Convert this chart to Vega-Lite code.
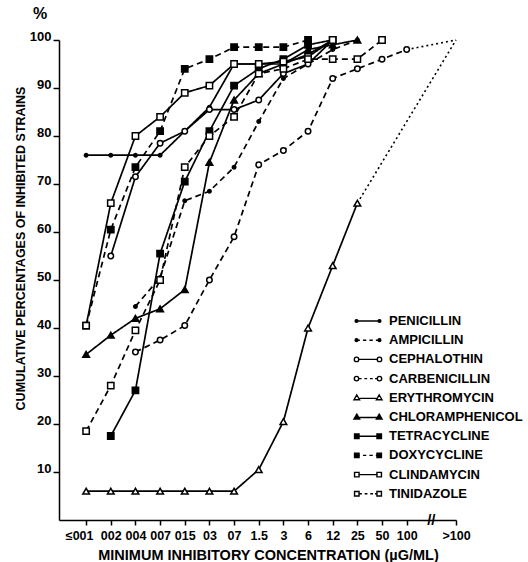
{
  "$schema": "https://vega.github.io/schema/vega-lite/v6.json",
  "width": 397,
  "height": 480,
  "autosize": "none",
  "padding": {"left": 59, "top": 40, "right": 72, "bottom": 42},
  "background": "white",
  "config": {"view": {"stroke": null}, "font": "Liberation Sans", "axis": {"labelOverlap": false}},
  "title": {"text": "%", "anchor": "start", "frame": "group", "dx": -26, "offset": 8, "fontSize": 16, "fontWeight": "bold", "color": "black", "font": "Liberation Sans"},
  "datasets": {
    "curves": [
      {"drug": "PENICILLIN", "step": 0, "pct": 76}, {"drug": "PENICILLIN", "step": 1, "pct": 76}, {"drug": "PENICILLIN", "step": 2, "pct": 76}, {"drug": "PENICILLIN", "step": 3, "pct": 76}, {"drug": "PENICILLIN", "step": 4, "pct": 81}, {"drug": "PENICILLIN", "step": 5, "pct": 86}, {"drug": "PENICILLIN", "step": 6, "pct": 95}, {"drug": "PENICILLIN", "step": 7, "pct": 95}, {"drug": "PENICILLIN", "step": 8, "pct": 95}, {"drug": "PENICILLIN", "step": 9, "pct": 97}, {"drug": "PENICILLIN", "step": 10, "pct": 100},
      {"drug": "AMPICILLIN", "step": 2, "pct": 44.5}, {"drug": "AMPICILLIN", "step": 3, "pct": 50.5}, {"drug": "AMPICILLIN", "step": 4, "pct": 66.5}, {"drug": "AMPICILLIN", "step": 5, "pct": 68.5}, {"drug": "AMPICILLIN", "step": 6, "pct": 73.5}, {"drug": "AMPICILLIN", "step": 7, "pct": 83}, {"drug": "AMPICILLIN", "step": 8, "pct": 92}, {"drug": "AMPICILLIN", "step": 9, "pct": 95}, {"drug": "AMPICILLIN", "step": 10, "pct": 98}, {"drug": "AMPICILLIN", "step": 11, "pct": 100},
      {"drug": "CEPHALOTHIN", "step": 1, "pct": 55}, {"drug": "CEPHALOTHIN", "step": 2, "pct": 71.5}, {"drug": "CEPHALOTHIN", "step": 3, "pct": 78.5}, {"drug": "CEPHALOTHIN", "step": 4, "pct": 81}, {"drug": "CEPHALOTHIN", "step": 5, "pct": 85.5}, {"drug": "CEPHALOTHIN", "step": 6, "pct": 85.5}, {"drug": "CEPHALOTHIN", "step": 7, "pct": 87.5}, {"drug": "CEPHALOTHIN", "step": 8, "pct": 93}, {"drug": "CEPHALOTHIN", "step": 9, "pct": 95}, {"drug": "CEPHALOTHIN", "step": 10, "pct": 100},
      {"drug": "CARBENICILLIN", "step": 2, "pct": 35}, {"drug": "CARBENICILLIN", "step": 3, "pct": 37.5}, {"drug": "CARBENICILLIN", "step": 4, "pct": 40.5}, {"drug": "CARBENICILLIN", "step": 5, "pct": 50}, {"drug": "CARBENICILLIN", "step": 6, "pct": 59}, {"drug": "CARBENICILLIN", "step": 7, "pct": 74}, {"drug": "CARBENICILLIN", "step": 8, "pct": 77}, {"drug": "CARBENICILLIN", "step": 9, "pct": 81}, {"drug": "CARBENICILLIN", "step": 10, "pct": 92}, {"drug": "CARBENICILLIN", "step": 11, "pct": 94}, {"drug": "CARBENICILLIN", "step": 12, "pct": 96}, {"drug": "CARBENICILLIN", "step": 13, "pct": 98},
      {"drug": "ERYTHROMYCIN", "step": 0, "pct": 6}, {"drug": "ERYTHROMYCIN", "step": 1, "pct": 6}, {"drug": "ERYTHROMYCIN", "step": 2, "pct": 6}, {"drug": "ERYTHROMYCIN", "step": 3, "pct": 6}, {"drug": "ERYTHROMYCIN", "step": 4, "pct": 6}, {"drug": "ERYTHROMYCIN", "step": 5, "pct": 6}, {"drug": "ERYTHROMYCIN", "step": 6, "pct": 6}, {"drug": "ERYTHROMYCIN", "step": 7, "pct": 10.5}, {"drug": "ERYTHROMYCIN", "step": 8, "pct": 20.5}, {"drug": "ERYTHROMYCIN", "step": 9, "pct": 40}, {"drug": "ERYTHROMYCIN", "step": 10, "pct": 53}, {"drug": "ERYTHROMYCIN", "step": 11, "pct": 66},
      {"drug": "CHLORAMPHENICOL", "step": 0, "pct": 34.5}, {"drug": "CHLORAMPHENICOL", "step": 1, "pct": 38.5}, {"drug": "CHLORAMPHENICOL", "step": 2, "pct": 42}, {"drug": "CHLORAMPHENICOL", "step": 3, "pct": 44}, {"drug": "CHLORAMPHENICOL", "step": 4, "pct": 48}, {"drug": "CHLORAMPHENICOL", "step": 5, "pct": 74.5}, {"drug": "CHLORAMPHENICOL", "step": 6, "pct": 87.5}, {"drug": "CHLORAMPHENICOL", "step": 7, "pct": 93}, {"drug": "CHLORAMPHENICOL", "step": 8, "pct": 95}, {"drug": "CHLORAMPHENICOL", "step": 9, "pct": 98}, {"drug": "CHLORAMPHENICOL", "step": 10, "pct": 99}, {"drug": "CHLORAMPHENICOL", "step": 11, "pct": 100},
      {"drug": "TETRACYCLINE", "step": 1, "pct": 17.5}, {"drug": "TETRACYCLINE", "step": 2, "pct": 27}, {"drug": "TETRACYCLINE", "step": 3, "pct": 55.5}, {"drug": "TETRACYCLINE", "step": 4, "pct": 70.5}, {"drug": "TETRACYCLINE", "step": 5, "pct": 81}, {"drug": "TETRACYCLINE", "step": 6, "pct": 90.5}, {"drug": "TETRACYCLINE", "step": 7, "pct": 94}, {"drug": "TETRACYCLINE", "step": 8, "pct": 96}, {"drug": "TETRACYCLINE", "step": 9, "pct": 99}, {"drug": "TETRACYCLINE", "step": 10, "pct": 100},
      {"drug": "DOXYCYCLINE", "step": 0, "pct": 40.5}, {"drug": "DOXYCYCLINE", "step": 1, "pct": 60.5}, {"drug": "DOXYCYCLINE", "step": 2, "pct": 73.5}, {"drug": "DOXYCYCLINE", "step": 3, "pct": 81}, {"drug": "DOXYCYCLINE", "step": 4, "pct": 94}, {"drug": "DOXYCYCLINE", "step": 5, "pct": 96}, {"drug": "DOXYCYCLINE", "step": 6, "pct": 98.5}, {"drug": "DOXYCYCLINE", "step": 7, "pct": 98.5}, {"drug": "DOXYCYCLINE", "step": 8, "pct": 98.5}, {"drug": "DOXYCYCLINE", "step": 9, "pct": 100},
      {"drug": "CLINDAMYCIN", "step": 0, "pct": 40.5}, {"drug": "CLINDAMYCIN", "step": 1, "pct": 66}, {"drug": "CLINDAMYCIN", "step": 2, "pct": 80}, {"drug": "CLINDAMYCIN", "step": 3, "pct": 84}, {"drug": "CLINDAMYCIN", "step": 4, "pct": 89}, {"drug": "CLINDAMYCIN", "step": 5, "pct": 90.5}, {"drug": "CLINDAMYCIN", "step": 6, "pct": 95}, {"drug": "CLINDAMYCIN", "step": 7, "pct": 95}, {"drug": "CLINDAMYCIN", "step": 8, "pct": 95.5}, {"drug": "CLINDAMYCIN", "step": 9, "pct": 96.5}, {"drug": "CLINDAMYCIN", "step": 10, "pct": 100},
      {"drug": "TINIDAZOLE", "step": 0, "pct": 18.5}, {"drug": "TINIDAZOLE", "step": 1, "pct": 28}, {"drug": "TINIDAZOLE", "step": 2, "pct": 39.5}, {"drug": "TINIDAZOLE", "step": 3, "pct": 50}, {"drug": "TINIDAZOLE", "step": 4, "pct": 73.5}, {"drug": "TINIDAZOLE", "step": 5, "pct": 80}, {"drug": "TINIDAZOLE", "step": 6, "pct": 84}, {"drug": "TINIDAZOLE", "step": 7, "pct": 93}, {"drug": "TINIDAZOLE", "step": 8, "pct": 94}, {"drug": "TINIDAZOLE", "step": 9, "pct": 96}, {"drug": "TINIDAZOLE", "step": 10, "pct": 96}, {"drug": "TINIDAZOLE", "step": 11, "pct": 96}, {"drug": "TINIDAZOLE", "step": 12, "pct": 100}
    ],
    "extensions": [
      {"drug": "ERYTHROMYCIN", "step": 11, "pct": 66}, {"drug": "ERYTHROMYCIN", "step": 15, "pct": 100},
      {"drug": "CARBENICILLIN", "step": 13, "pct": 98}, {"drug": "CARBENICILLIN", "step": 15, "pct": 100}
    ]
  },
  "layer": [
    {
      "data": {"name": "curves"},
      "mark": {"type": "line", "color": "black", "strokeWidth": 1.7},
      "encoding": {
        "x": {"field": "step", "type": "quantitative", "scale": {"domain": [-1.1, 15], "nice": false, "zero": false},
          "axis": {"values": [0,1,2,3,4,5,6,7,8,9,10,11,12,13,15], "tickCount": 20, "labelExpr": "['≤001','002','004','007','015','03','07','1.5','3','6','12','25','50','100','','>100'][datum.value]", "labelOffset": {"condition": {"test": "datum.value == 0", "value": -7}, "value": 0}, "grid": false, "domainColor": "black", "domainWidth": 1.5, "tickColor": "black", "tickWidth": 1.5, "tickSize": 5, "labelPadding": 4, "labelFont": "Liberation Sans", "labelFontSize": 12.5, "labelFontWeight": "bold", "labelColor": "black", "labelFlush": false, "labelOverlap": false, "title": "MINIMUM INHIBITORY CONCENTRATION (µG/ML)", "titleFont": "Liberation Sans", "titleFontSize": 14.5, "titleFontWeight": "bold", "titleColor": "black", "titleX": 209, "titleY": 35, "titleBaseline": "middle", "titleAlign": "center"}},
        "y": {"field": "pct", "type": "quantitative", "scale": {"domain": [0, 100], "nice": false},
          "axis": {"values": [10,20,30,40,50,60,70,80,90,100], "tickCount": 20, "grid": false, "domainColor": "black", "domainWidth": 1.5, "tickColor": "black", "tickWidth": 1.5, "tickSize": 6, "labelPadding": 2, "labelBaseline": "alphabetic", "labelFont": "Liberation Sans", "labelFontSize": 13, "labelFontWeight": "bold", "labelColor": "black", "labelOverlap": false, "title": "CUMULATIVE PERCENTAGES OF INHIBITED STRAINS", "titleFont": "Liberation Sans", "titleFontSize": 12.5, "titleFontWeight": "bold", "titleColor": "black", "titleX": -39, "titleY": 208, "titleBaseline": "middle", "titleAlign": "center", "titleAngle": 270}},
        "detail": {"field": "drug"},
        "strokeDash": {"field": "drug", "type": "nominal", "legend": null,
          "scale": {"domain": ["PENICILLIN","AMPICILLIN","CEPHALOTHIN","CARBENICILLIN","ERYTHROMYCIN","CHLORAMPHENICOL","TETRACYCLINE","DOXYCYCLINE","CLINDAMYCIN","TINIDAZOLE"],
            "range": [[1,0],[6,4],[1,0],[6,4],[1,0],[1,0],[1,0],[6,4],[1,0],[6,4]]}}
      }
    },
    {
      "data": {"name": "extensions"},
      "mark": {"type": "line", "color": "black", "strokeWidth": 1.6, "strokeDash": [2, 3]},
      "encoding": {
        "x": {"field": "step", "type": "quantitative"},
        "y": {"field": "pct", "type": "quantitative"},
        "detail": {"field": "drug"}
      }
    },
    {
      "data": {"name": "curves"},
      "mark": {"type": "point", "filled": true, "stroke": "black", "strokeWidth": 1.5, "opacity": 1},
      "encoding": {
        "x": {"field": "step", "type": "quantitative"},
        "y": {"field": "pct", "type": "quantitative"},
        "shape": {"field": "drug", "type": "nominal", "legend": null,
          "scale": {"domain": ["PENICILLIN","AMPICILLIN","CEPHALOTHIN","CARBENICILLIN","ERYTHROMYCIN","CHLORAMPHENICOL","TETRACYCLINE","DOXYCYCLINE","CLINDAMYCIN","TINIDAZOLE"],
            "range": ["circle","circle","circle","circle","triangle-up","triangle-up","square","square","square","square"]}},
        "fill": {"field": "drug", "type": "nominal", "legend": null,
          "scale": {"domain": ["PENICILLIN","AMPICILLIN","CEPHALOTHIN","CARBENICILLIN","ERYTHROMYCIN","CHLORAMPHENICOL","TETRACYCLINE","DOXYCYCLINE","CLINDAMYCIN","TINIDAZOLE"],
            "range": ["black","black","white","white","white","black","black","black","white","white"]}},
        "size": {"field": "drug", "type": "nominal", "legend": null,
          "scale": {"type": "ordinal", "domain": ["PENICILLIN","AMPICILLIN","CEPHALOTHIN","CARBENICILLIN","ERYTHROMYCIN","CHLORAMPHENICOL","TETRACYCLINE","DOXYCYCLINE","CLINDAMYCIN","TINIDAZOLE"],
            "range": [12,12,30,30,45,45,40,40,40,40]}}
      }
    },
    {
      "data": {"name": "curves"},
      "transform": [{"filter": "false"}],
      "mark": {"type": "point", "filled": true, "stroke": "black", "strokeWidth": 1.4, "opacity": 1},
      "encoding": {
        "shape": {"field": "drug", "type": "nominal",
          "scale": {"domain": ["PENICILLIN","AMPICILLIN","CEPHALOTHIN","CARBENICILLIN","ERYTHROMYCIN","CHLORAMPHENICOL","TETRACYCLINE","DOXYCYCLINE","CLINDAMYCIN","TINIDAZOLE"],
            "range": [
              "M-1.64,0L1.64,0M-1.84,0A0.2,0.2,0,1,0,-1.44,0A0.2,0.2,0,1,0,-1.84,0ZM1.44,0A0.2,0.2,0,1,0,1.84,0A0.2,0.2,0,1,0,1.44,0Z",
              "M-1.64,0L-1.16,0M-0.72,0L-0.24,0M0.2,0L0.68,0M1.12,0L1.64,0M-1.84,0A0.2,0.2,0,1,0,-1.44,0A0.2,0.2,0,1,0,-1.84,0ZM1.44,0A0.2,0.2,0,1,0,1.84,0A0.2,0.2,0,1,0,1.44,0Z",
              "M-1.32,0L1.32,0M-1.96,0A0.32,0.32,0,1,0,-1.32,0A0.32,0.32,0,1,0,-1.96,0ZM1.32,0A0.32,0.32,0,1,0,1.96,0A0.32,0.32,0,1,0,1.32,0Z",
              "M-1.32,0L-0.92,0M-0.52,0L-0.12,0M0.28,0L0.68,0M1.0,0L1.32,0M-1.96,0A0.32,0.32,0,1,0,-1.32,0A0.32,0.32,0,1,0,-1.96,0ZM1.32,0A0.32,0.32,0,1,0,1.96,0A0.32,0.32,0,1,0,1.32,0Z",
              "M-1.2,0.08L1.2,0.08M-1.6,-0.4L-1.2,0.28L-2,0.28ZM1.6,-0.4L2,0.28L1.2,0.28Z",
              "M-1.6,0.08L1.6,0.08M-1.6,-0.4L-1.2,0.28L-2,0.28ZM1.6,-0.4L2,0.28L1.2,0.28Z",
              "M-1.6,0L1.6,0M-1.92,-0.32h0.64v0.64h-0.64ZM1.28,-0.32h0.64v0.64h-0.64Z",
              "M-1.6,0L-1.16,0M-0.72,0L-0.24,0M0.2,0L0.68,0M1.12,0L1.6,0M-1.92,-0.32h0.64v0.64h-0.64ZM1.28,-0.32h0.64v0.64h-0.64Z",
              "M-1.28,0L1.28,0M-1.92,-0.32h0.64v0.64h-0.64ZM1.28,-0.32h0.64v0.64h-0.64Z",
              "M-1.28,0L-0.88,0M-0.48,0L-0.08,0M0.32,0L0.72,0M1.0,0L1.28,0M-1.92,-0.32h0.64v0.64h-0.64ZM1.28,-0.32h0.64v0.64h-0.64Z"
            ]},
          "legend": {"orient": "none", "legendX": 301, "legendY": 273, "title": null, "symbolSize": 196, "symbolStrokeColor": "black", "symbolStrokeWidth": 1.4, "labelFont": "Liberation Sans", "labelFontSize": 13, "labelFontWeight": "bold", "labelColor": "black", "labelOffset": 13, "rowPadding": 4.2, "labelLimit": 0}},
        "fill": {"field": "drug", "type": "nominal",
          "scale": {"domain": ["PENICILLIN","AMPICILLIN","CEPHALOTHIN","CARBENICILLIN","ERYTHROMYCIN","CHLORAMPHENICOL","TETRACYCLINE","DOXYCYCLINE","CLINDAMYCIN","TINIDAZOLE"],
            "range": ["black","black","white","white","white","black","black","black","white","white"]},
          "legend": {"orient": "none", "legendX": 301, "legendY": 273, "title": null, "symbolSize": 196, "symbolStrokeColor": "black", "symbolStrokeWidth": 1.4, "labelFont": "Liberation Sans", "labelFontSize": 13, "labelFontWeight": "bold", "labelColor": "black", "labelOffset": 13, "rowPadding": 4.2, "labelLimit": 0}},
        "stroke": {"field": "drug", "type": "nominal",
          "scale": {"domain": ["PENICILLIN","AMPICILLIN","CEPHALOTHIN","CARBENICILLIN","ERYTHROMYCIN","CHLORAMPHENICOL","TETRACYCLINE","DOXYCYCLINE","CLINDAMYCIN","TINIDAZOLE"],
            "range": ["black","black","black","black","black","black","black","black","black","black"]},
          "legend": {"orient": "none", "legendX": 301, "legendY": 273, "title": null, "symbolSize": 196, "symbolStrokeColor": "black", "symbolStrokeWidth": 1.4, "labelFont": "Liberation Sans", "labelFontSize": 13, "labelFontWeight": "bold", "labelColor": "black", "labelOffset": 13, "rowPadding": 4.2, "labelLimit": 0}}
      }
    },
    {
      "data": {"values": [{}]},
      "mark": {"type": "text", "text": "//", "fontSize": 15, "fontWeight": "bold", "color": "black", "baseline": "middle", "align": "center", "font": "Liberation Sans"},
      "encoding": {"x": {"datum": 14}, "y": {"datum": 0}}
    }
  ],
  "resolve": {"scale": {"shape": "independent", "fill": "independent", "stroke": "independent"}}
}
